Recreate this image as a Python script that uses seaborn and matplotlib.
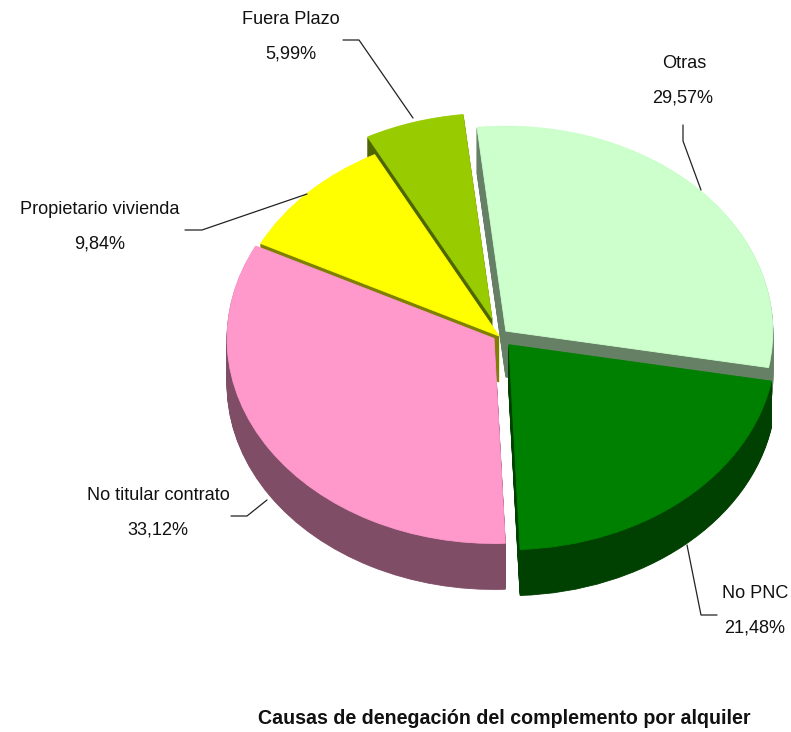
import matplotlib
matplotlib.use("Agg")
import matplotlib.pyplot as plt
from matplotlib.colors import to_rgb
from matplotlib.lines import Line2D
import numpy as np
import seaborn as sns

# slices in drawing order of the pie (clockwise from the top)
causes = ['Otras', 'No PNC', 'No titular contrato', 'Propietario vivienda', 'Fuera Plazo']
shares = [29.57, 21.48, 33.12, 9.84, 5.99]
share_labels = ['29,57%', '21,48%', '33,12%', '9,84%', '5,99%']
slice_colors = ['#CCFFCC', '#008000', '#FF99CC', '#FFFF00', '#99CC00']
explode = [0.035, 0.056, 0.022, 0.0, 0.09]
title = 'Causas de denegación del complemento por alquiler'

W, H = 791, 732
# pie centre and radii in pixels, the pie is squashed to look tilted
CX, CY, RX, RY, DEPTH = 499, 336, 267, 205, 46

# back to front, so the nearer slices cover the walls of the others
stack_order = [4, 0, 3, 2, 1]

sns.set_theme(style="white")
plt.rcParams['font.family'] = ['Liberation Sans', 'DejaVu Sans']

fig = plt.figure(figsize=(W / 100, H / 100), dpi=100)
ax = fig.add_axes([0, 0, 1, 1])

palette = sns.color_palette(slice_colors)
walls = [tuple(np.array(to_rgb(c)) * 0.5) for c in palette]

def draw_pie(colors, offset, base_z):
    wedges, _ = ax.pie(shares, explode=explode, colors=colors, startangle=96.2,
                       counterclock=False, center=(0, -offset / RY), radius=1,
                       wedgeprops={'linewidth': 0.6})
    for i, w in enumerate(wedges):
        w.set_edgecolor(colors[i])
        w.set_zorder(stack_order.index(i) * 10 + base_z)

# the side wall is the same pie stacked downwards in a darker colour
for d in range(DEPTH, 0, -1):
    draw_pie(walls, d, 1)
draw_pie(list(palette), 0, 5)

ax.set_aspect('auto')
ax.set_xlim(-CX / RX, (W - CX) / RX)
ax.set_ylim((CY - H) / RY, CY / RY)
ax.axis('off')

def px(x, y):
    return x / W, 1 - y / H

def label(x, y, txt, **kw):
    fx, fy = px(x, y)
    fig.text(fx, fy, txt, ha='center', va='center', fontsize=kw.pop('fontsize', 13.1),
             color='#111111', **kw)

def leader(points):
    xs = [p[0] / W for p in points]
    ys = [1 - p[1] / H for p in points]
    fig.add_artist(Line2D(xs, ys, color='#222222', lw=0.9, zorder=100))

label(684, 63, causes[0])
label(683, 98, share_labels[0])
label(755, 594, causes[1])
label(755, 628, share_labels[1])
label(158, 496, causes[2])
label(158, 530, share_labels[2])
label(100, 209, causes[3])
label(100, 244, share_labels[3])
label(291, 20, causes[4])
label(291, 54, share_labels[4])

leader([(683, 125), (683, 141), (701, 190)])
leader([(687, 545), (701, 615), (717, 615)])
leader([(231, 516), (247, 516), (267, 500)])
leader([(185, 230), (202, 230), (307, 194)])
leader([(343, 40), (359, 40), (413, 118)])

label(504, 719, title, fontsize=14.1, fontweight='bold')

fig.savefig('out.png', dpi=100, facecolor='white')
